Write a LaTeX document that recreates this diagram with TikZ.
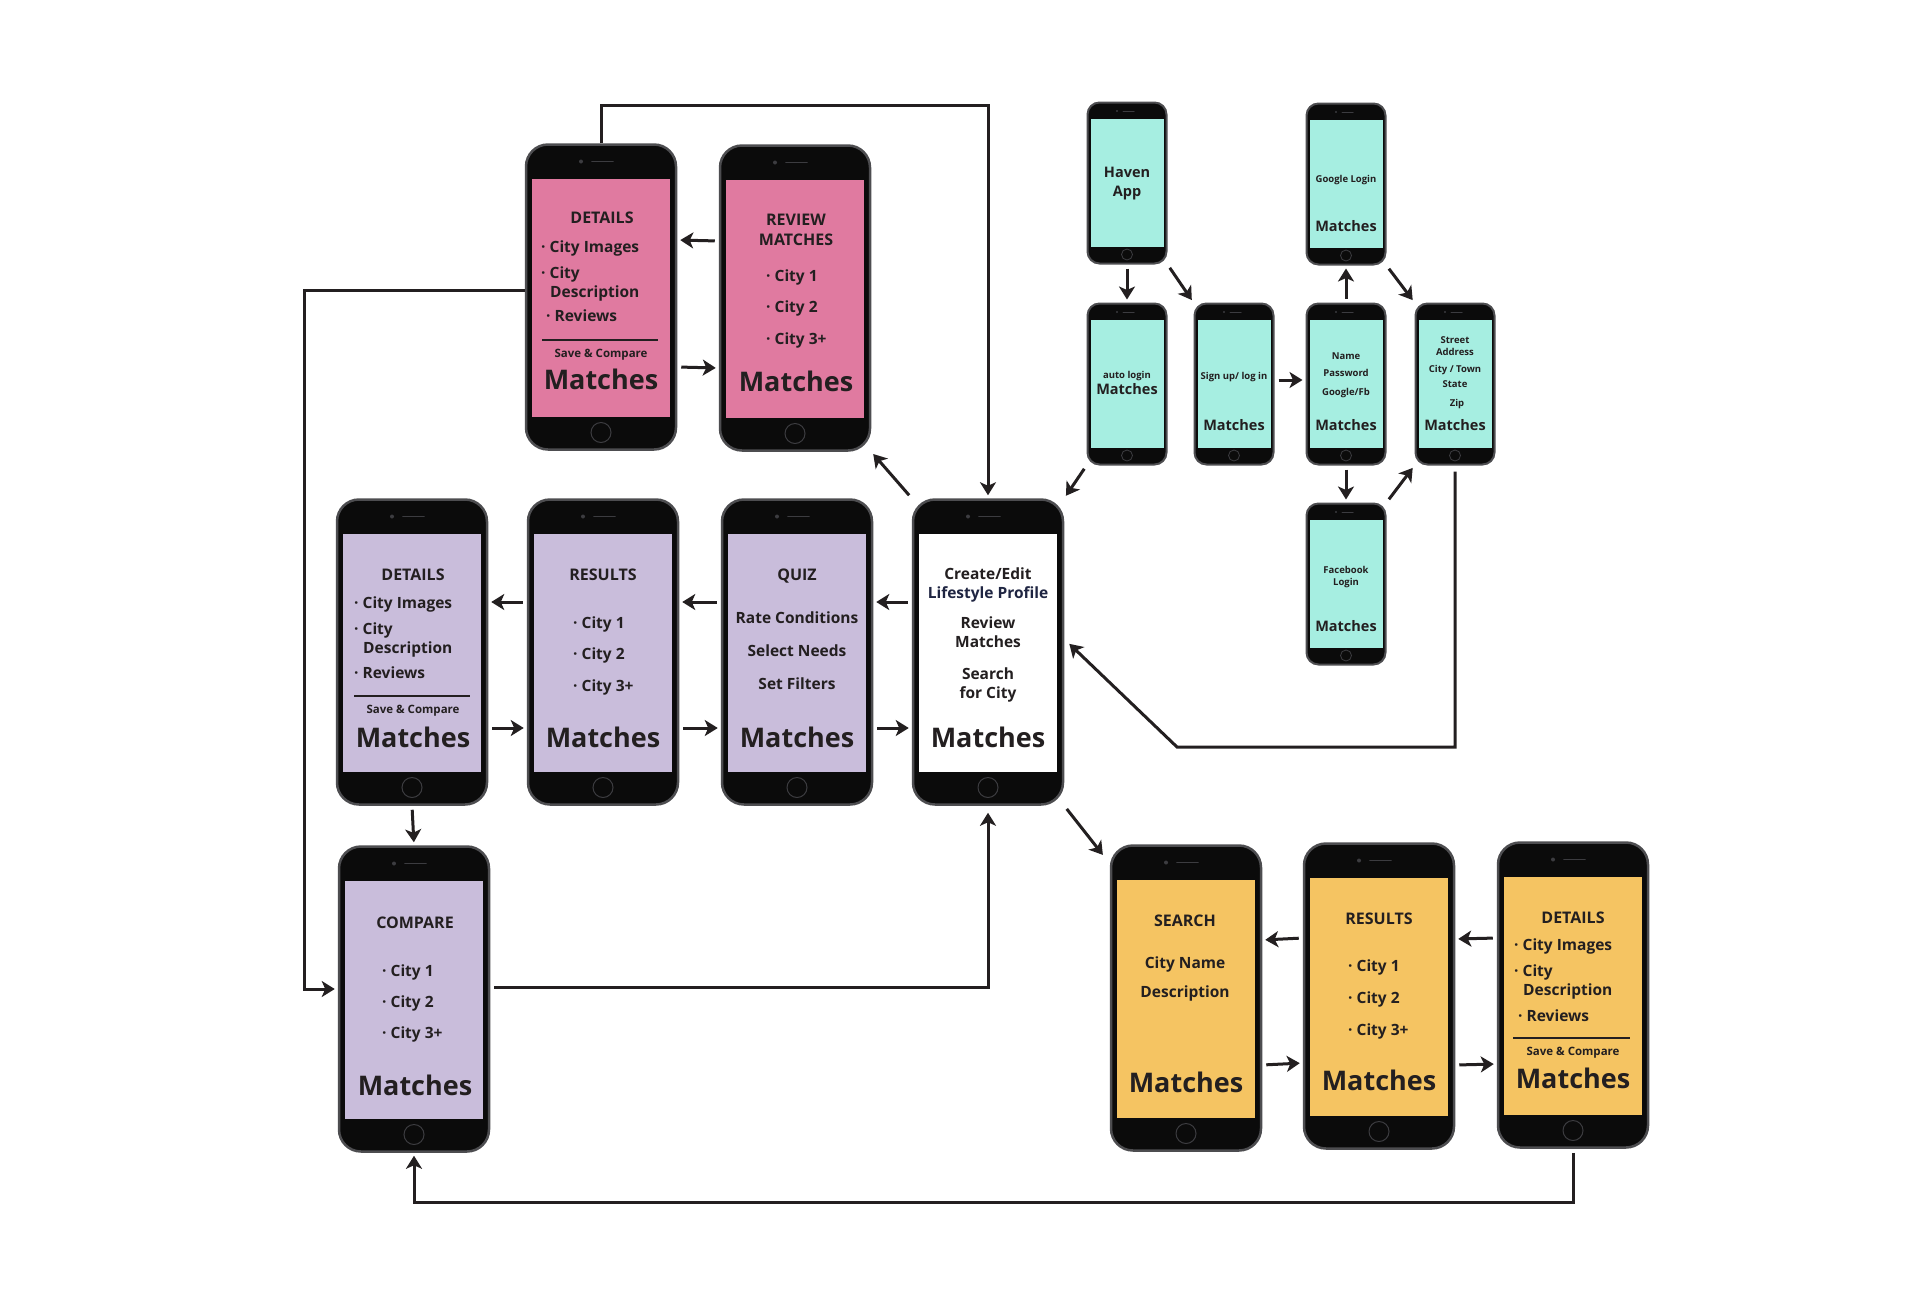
\documentclass[tikz,border=0pt]{standalone}
\usepackage{fontspec}
\setmainfont{Open Sans}
\usetikzlibrary{arrows.meta}

\definecolor{ink}{HTML}{231F20}
\definecolor{navy}{HTML}{1F2542}
\definecolor{phonebody}{HTML}{0B0B0B}
\definecolor{phoneedge}{HTML}{4D4D50}
\definecolor{phonegrey}{HTML}{3C3C40}
\definecolor{pinkscr}{HTML}{E07AA0}
\definecolor{lavscr}{HTML}{C9BDDB}
\definecolor{tealscr}{HTML}{A6EEE1}
\definecolor{goldscr}{HTML}{F5C462}

\tikzset{
  bigphone/.style={draw=phoneedge, line width=2.5pt, fill=phonebody, rounded corners=22pt,
    minimum width=150pt, minimum height=305pt, inner sep=0pt,
    path picture={
      \fill[fill=#1, sharp corners] ([xshift=-69pt,yshift=-34pt]path picture bounding box.north)
        rectangle ([xshift=69pt,yshift=33pt]path picture bounding box.south);
      \fill[fill=phonegrey] ([xshift=-20pt,yshift=-17pt]path picture bounding box.north) circle (2pt);
      \draw[draw=phonegrey, line width=1.6pt, line cap=round]
        ([xshift=-9pt,yshift=-17pt]path picture bounding box.north)
        -- ([xshift=12pt,yshift=-17pt]path picture bounding box.north);
      \draw[draw=phonegrey, line width=1pt] ([yshift=17pt]path picture bounding box.south) circle (10pt);
    }},
  smallphone/.style={draw=phoneedge, line width=2pt, fill=phonebody, rounded corners=12pt,
    minimum width=79pt, minimum height=161pt, inner sep=0pt,
    path picture={
      \fill[fill=#1, sharp corners] ([xshift=-36.5pt,yshift=-16pt]path picture bounding box.north)
        rectangle ([xshift=36.5pt,yshift=17pt]path picture bounding box.south);
      \fill[fill=phonegrey] ([xshift=-10pt,yshift=-8.5pt]path picture bounding box.north) circle (1.2pt);
      \draw[draw=phonegrey, line width=1pt, line cap=round]
        ([xshift=-4pt,yshift=-8.5pt]path picture bounding box.north)
        -- ([xshift=7pt,yshift=-8.5pt]path picture bounding box.north);
      \draw[draw=phonegrey, line width=.8pt] ([yshift=9pt]path picture bounding box.south) circle (5.5pt);
    }},
  txt/.style={inner sep=0pt, anchor=mid, text=ink, yshift=-4pt, font=\bfseries\fontsize{15.5}{18}\selectfont},
  lefttxt/.style={txt, anchor=mid west},
  headtxt/.style={txt, font=\bfseries\fontsize{16}{19}\selectfont},
  bigtxt/.style={txt, yshift=-4pt, font=\bfseries\fontsize{27}{30}\selectfont},
  savetxt/.style={txt, yshift=2.5pt, font=\bfseries\fontsize{11.5}{13}\selectfont},
  minitxt/.style={txt, yshift=2.5pt, font=\bfseries\fontsize{9.5}{11}\selectfont},
  midtxt/.style={txt, yshift=1.5pt, font=\bfseries\fontsize{14.5}{17}\selectfont},
  rule/.style={draw=ink, line width=2.5pt},
  arr/.style={draw=ink, line width=3pt, -{Stealth[length=13pt,width=16pt,inset=3.5pt]},
    shorten >=3pt, shorten <=4pt},
}

\begin{document}
\begin{tikzpicture}[x=1pt,y=-1pt]
  \fill[white] (0,0) rectangle (1920,1294);
  \useasboundingbox (0,0) rectangle (1920,1294);

  % phones
  \node[bigphone=pinkscr] (det1) at (601,297) {};
  \node[bigphone=pinkscr] (rev) at (795,298) {};
  \node[bigphone=lavscr] (det2) at (412,652) {};
  \node[bigphone=lavscr] (res2) at (603,652) {};
  \node[bigphone=lavscr] (quiz) at (797,652) {};
  \node[bigphone=white] (prof) at (988,652) {};
  \node[bigphone=lavscr] (cmp) at (414,999) {};
  \node[bigphone=goldscr] (srch) at (1186,998) {};
  \node[bigphone=goldscr] (res3) at (1379,996) {};
  \node[bigphone=goldscr] (det3) at (1573,995) {};

  \node[smallphone=tealscr] (haven) at (1127,183) {};
  \node[smallphone=tealscr] (goog) at (1346,184) {};
  \node[smallphone=tealscr] (auto) at (1127,384) {};
  \node[smallphone=tealscr] (sign) at (1234,384) {};
  \node[smallphone=tealscr] (name) at (1346,384) {};
  \node[smallphone=tealscr] (strt) at (1455,384) {};
  \node[smallphone=tealscr] (fb) at (1346,584) {};

  % pink details
  \node[headtxt] (d1a) at (602,217) {DETAILS};
  \node[lefttxt] (d1b) at (541,246) {· City Images};
  \node[lefttxt] (d1c) at (541,272) {· City};
  \node[lefttxt] (d1d) at (550,291) {Description};
  \node[lefttxt] (d1e) at (546,315) {· Reviews};
  \draw[rule] (542,340) -- (658,340);
  \node[savetxt] (d1f) at (601,353) {Save \& Compare};
  \node[bigtxt] (d1m) at (601,379) {Matches};

  % pink review
  \node[headtxt] (rva) at (796,219) {REVIEW};
  \node[headtxt] (rvb) at (796,239) {MATCHES};
  \node[lefttxt] (rvc) at (766,275) {· City 1};
  \node[lefttxt] (rvd) at (766,306) {· City 2};
  \node[lefttxt] (rve) at (766,338) {· City 3+};
  \node[bigtxt] (rvm) at (796,381) {Matches};

  % lavender details
  \node[headtxt] (d2a) at (413,574) {DETAILS};
  \node[lefttxt] (d2b) at (354,602) {· City Images};
  \node[lefttxt] (d2c) at (354,628) {· City};
  \node[lefttxt] (d2d) at (363,647) {Description};
  \node[lefttxt] (d2e) at (354,672) {· Reviews};
  \draw[rule] (354,696) -- (470,696);
  \node[savetxt] (d2f) at (413,709) {Save \& Compare};
  \node[bigtxt] (d2m) at (413,737) {Matches};

  % lavender results
  \node[headtxt] (r2a) at (603,574) {RESULTS};
  \node[lefttxt] (r2b) at (573,622) {· City 1};
  \node[lefttxt] (r2c) at (573,653) {· City 2};
  \node[lefttxt] (r2d) at (573,685) {· City 3+};
  \node[bigtxt] (r2m) at (603,737) {Matches};

  % quiz
  \node[headtxt] (qza) at (797,574) {QUIZ};
  \node[txt] (qzb) at (797,617) {Rate Conditions};
  \node[txt] (qzc) at (797,650) {Select Needs};
  \node[txt] (qzd) at (797,683) {Set Filters};
  \node[bigtxt] (qzm) at (797,737) {Matches};

  % profile
  \node[txt] (pfa) at (988,573) {Create/Edit};
  \node[txt, text=navy] (pfb) at (988,592) {Lifestyle Profile};
  \node[txt] (pfc) at (988,622) {Review};
  \node[txt] (pfd) at (988,641) {Matches};
  \node[txt] (pfe) at (988,673) {Search};
  \node[txt] (pff) at (988,692) {for City};
  \node[bigtxt] (pfm) at (988,737) {Matches};

  % compare
  \node[headtxt] (cpa) at (415,922) {COMPARE};
  \node[lefttxt] (cpb) at (382,970) {· City 1};
  \node[lefttxt] (cpc) at (382,1001) {· City 2};
  \node[lefttxt] (cpd) at (382,1032) {· City 3+};
  \node[bigtxt] (cpm) at (415,1085) {Matches};

  % yellow search
  \node[headtxt] (sra) at (1185,920) {SEARCH};
  \node[txt] (srb) at (1185,962) {City Name};
  \node[txt] (src) at (1185,991) {Description};
  \node[bigtxt] (srm) at (1186,1082) {Matches};

  % yellow results
  \node[headtxt] (r3a) at (1379,918) {RESULTS};
  \node[lefttxt] (r3b) at (1348,965) {· City 1};
  \node[lefttxt] (r3c) at (1348,997) {· City 2};
  \node[lefttxt] (r3d) at (1348,1029) {· City 3+};
  \node[bigtxt] (r3m) at (1379,1080) {Matches};

  % yellow details
  \node[headtxt] (d3a) at (1573,917) {DETAILS};
  \node[lefttxt] (d3b) at (1514,944) {· City Images};
  \node[lefttxt] (d3c) at (1514,970) {· City};
  \node[lefttxt] (d3d) at (1523,989) {Description};
  \node[lefttxt] (d3e) at (1518,1015) {· Reviews};
  \draw[rule] (1513,1038) -- (1630,1038);
  \node[savetxt] (d3f) at (1573,1051) {Save \& Compare};
  \node[bigtxt] (d3m) at (1573,1078) {Matches};

  % login flow
  \node[midtxt] (hva) at (1127,172) {Haven};
  \node[midtxt] (hvb) at (1127,191) {App};
  \node[minitxt] (gga) at (1346,178) {Google Login};
  \node[midtxt] (ggm) at (1346,226) {Matches};
  \node[minitxt] (aua) at (1127,374) {auto login};
  \node[midtxt] (aum) at (1127,389) {Matches};
  \node[minitxt] (sga) at (1234,375) {Sign up/ log in};
  \node[midtxt] (sgm) at (1234,425) {Matches};
  \node[minitxt] (nma) at (1346,355) {Name};
  \node[minitxt] (nmb) at (1346,372) {Password};
  \node[minitxt] (nmc) at (1346,391) {Google/Fb};
  \node[midtxt] (nmm) at (1346,425) {Matches};
  \node[minitxt] (sta) at (1455,339) {Street};
  \node[minitxt] (stb) at (1455,351) {Address};
  \node[minitxt] (stc) at (1455,368) {City / Town};
  \node[minitxt] (std) at (1455,383) {State};
  \node[minitxt] (ste) at (1457,402) {Zip};
  \node[midtxt] (stm) at (1455,425) {Matches};
  \node[minitxt] (fba) at (1346,569) {Facebook};
  \node[minitxt] (fbb) at (1346,581) {Login};
  \node[midtxt] (fbm) at (1346,626) {Matches};

  % bends
  \coordinate (topbend) at (988,105);
  \coordinate (leftbend) at (304,989);
  \coordinate (botbend) at (414,1202);
  \coordinate (rightbend) at (1177,747);

  % connectors
  \draw[arr, shorten <=0pt] (det1.north) |- (topbend) -- (prof.north);
  \draw[arr, shorten <=0pt] ([yshift=7pt]det1.west) -| (leftbend) -- ([yshift=10pt]cmp.west);
  \draw[arr] ([yshift=57pt]rev.west) -- ([yshift=57pt]det1.east);
  \draw[arr] ([yshift=-70pt]det1.east) -- ([yshift=-70pt]rev.west);
  \draw[arr] (prof.north west) -- (rev.south east);
  \draw[arr] ([yshift=50pt]prof.west) -- ([yshift=50pt]quiz.east);
  \draw[arr] ([yshift=-76pt]quiz.east) -- ([yshift=-76pt]prof.west);
  \draw[arr] ([yshift=50pt]quiz.west) -- ([yshift=50pt]res2.east);
  \draw[arr] ([yshift=-76pt]res2.east) -- ([yshift=-76pt]quiz.west);
  \draw[arr] ([yshift=50pt]res2.west) -- ([yshift=50pt]det2.east);
  \draw[arr] ([yshift=-76pt]det2.east) -- ([yshift=-76pt]res2.west);
  \draw[arr] (det2.south) -- (cmp.north);
  \draw[arr, shorten >=7pt] ([yshift=12pt]cmp.east) -| (prof.south);
  \draw[arr] (det3.south) |- (botbend) -- (cmp.south);
  \draw[arr] (prof.south east) -- ([xshift=-5pt,yshift=-13pt]srch.north west);
  \draw[arr] ([yshift=58pt]res3.west) -- ([yshift=58pt]srch.east);
  \draw[arr] ([yshift=-67pt]srch.east) -- ([yshift=-67pt]res3.west);
  \draw[arr] ([yshift=57pt]det3.west) -- ([yshift=57pt]res3.east);
  \draw[arr] ([yshift=-69pt]res3.east) -- ([yshift=-69pt]det3.west);
  \draw[arr, shorten <=6pt, shorten >=7pt] (strt.south) |- (rightbend) -- ([yshift=13pt]prof.east);
  \draw[arr] (auto.south west) -- (prof.north east);
  \draw[arr] (haven.south) -- (auto.north);
  \draw[arr] (haven.south east) -- (sign.north west);
  \draw[arr] ([yshift=4pt]sign.east) -- ([yshift=4pt]name.west);
  \draw[arr] (name.north) -- (goog.south);
  \draw[arr] (goog.south east) -- (strt.north west);
  \draw[arr] (name.south) -- (fb.north);
  \draw[arr] (fb.north east) -- (strt.south west);
\end{tikzpicture}
\end{document}
